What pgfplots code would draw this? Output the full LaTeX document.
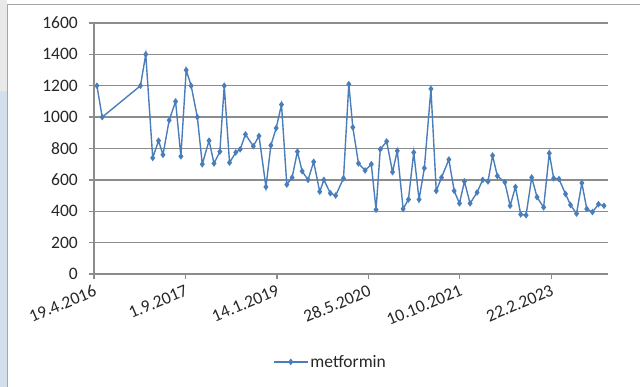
\documentclass[border=0pt]{standalone}
\usepackage{fontspec}
\setmainfont{Carlito}
\usepackage{pgfplots}
\pgfplotsset{compat=1.18}
\usepackage{pgfplotstable}

\definecolor{series}{HTML}{4A7EBB}
\definecolor{gridgray}{HTML}{8C8C8C}
\definecolor{framegray}{HTML}{A6A6A6}
\definecolor{stripblue}{HTML}{D3E0EB}
\definecolor{stripgray}{HTML}{E9E9E9}

% day = days since 19.4.2016
\pgfplotstableread{
day value
16 1200
45 1000
254 1200
283 1400
321 740
353 850
377 760
411 980
446 1100
475 750
504 1300
531 1200
565 1000
592 700
629 850
656 705
688 780
712 1200
741 710
775 775
799 795
828 890
871 815
902 880
940 555
967 820
996 930
1025 1080
1054 570
1083 615
1112 780
1138 655
1170 600
1201 715
1234 525
1257 600
1292 515
1321 500
1364 610
1393 1210
1415 935
1446 705
1482 660
1516 700
1542 410
1565 795
1600 845
1632 650
1658 785
1690 415
1719 475
1748 775
1777 475
1806 675
1842 1180
1871 530
1900 615
1940 730
1969 530
1998 450
2025 590
2056 450
2094 520
2125 600
2154 590
2179 755
2205 625
2246 585
2275 435
2304 555
2333 380
2362 375
2393 615
2422 490
2458 425
2489 770
2513 610
2542 605
2578 510
2605 440
2638 385
2667 580
2694 415
2725 395
2758 445
2788 435
}\metformin

\begin{document}
\begin{tikzpicture}
\useasboundingbox (-94bp,-113bp) rectangle (546bp,274bp);
% slide background strip and chart frame
\fill[stripgray] (-94bp,183bp) rectangle (-87bp,274bp);
\fill[stripblue] (-94bp,-113bp) rectangle (-87bp,183bp);
\draw[framegray, line width=0.9bp] (-87bp,-113bp) -- (-87bp,270bp) -- (546bp,270bp);
\begin{axis}[
  scale only axis,
  width=514bp, height=251bp,
  xmin=0, xmax=2810,
  ymin=0, ymax=1600,
  axis x line*=bottom,
  axis y line*=left,
  axis line style={gridgray, line width=1.3bp},
  xtick={0,500,1000,1500,2000,2500},
  xticklabels={19.4.2016,1.9.2017,14.1.2019,28.5.2020,10.10.2021,22.2.2023},
  ytick={0,200,...,1600},
  ymajorgrids,
  major grid style={gridgray, line width=1.3bp},
  tick align=outside,
  major tick length=5bp,
  tick style={gridgray, line width=1.3bp},
  /pgf/number format/assume math mode=true,
  /pgf/number format/1000 sep={},
  every tick label/.append style={font=\fontsize{17.5bp}{20bp}\selectfont, text=black!85},
  yticklabel style={inner sep=0pt, xshift=-11bp},
  xticklabel style={inner sep=0pt, yshift=-5bp, xshift=-1bp, rotate=23, anchor=north east},
  legend style={draw=none, fill=none, at={(0.348,-0.35)}, anchor=west, inner sep=0pt,
    font=\fontsize{17.5bp}{20bp}\selectfont, text=black!85,
    nodes={inner sep=2bp}},
  legend image code/.code={
    \draw[mark repeat=2, mark phase=2] plot coordinates {(0bp,0bp) (17bp,0bp) (34bp,0bp)};
  },
]
\addplot[series, line width=1.4bp, mark=diamond*, mark size=2.2bp,
  mark options={series}] table[x=day, y=value] {\metformin};
\addlegendentry{metformin}
\end{axis}
\end{tikzpicture}
\end{document}
